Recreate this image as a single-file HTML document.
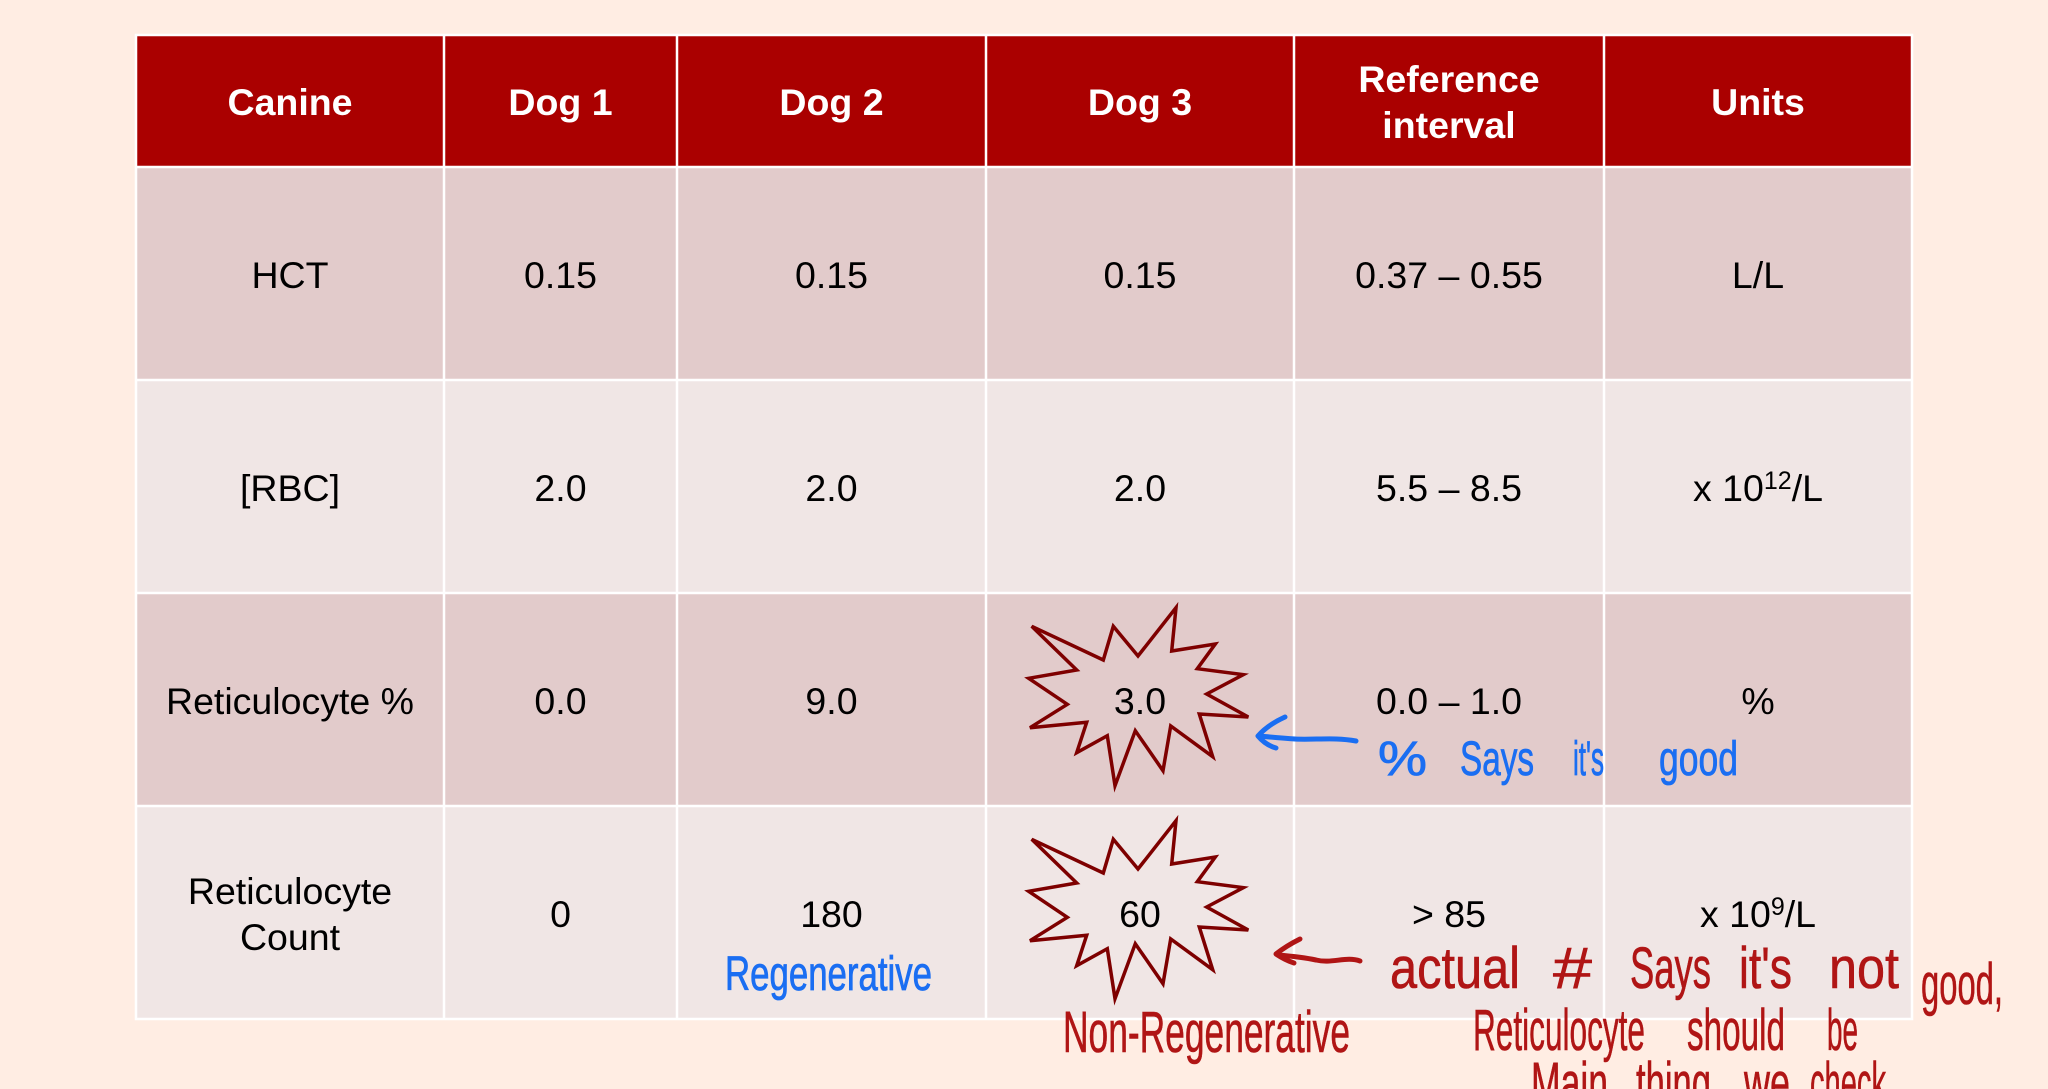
<!DOCTYPE html>
<html><head><meta charset="utf-8">
<style>
html,body{margin:0;padding:0;background:#FFEDE3;}
svg{display:block;}
text{font-family:"Liberation Sans",Arial,sans-serif;}
.h{fill:#fff;font-weight:bold;font-size:37.5px;text-anchor:middle;}
.c{fill:#000;font-size:37.5px;text-anchor:middle;}
.hb{fill:#1A6EF2;stroke:#1A6EF2;stroke-width:0.8;font-size:48px;}
.hr{fill:#B01515;stroke:#B01515;stroke-width:0.6;font-size:58px;}
</style></head>
<body>
<svg width="2048" height="1089" viewBox="0 0 2048 1089" xmlns="http://www.w3.org/2000/svg">
<rect x="0" y="0" width="2048" height="1089" fill="#FFEDE3"/>
<!-- table backgrounds -->
<rect x="136" y="35" width="1776" height="132" fill="#AA0000"/>
<rect x="136" y="167" width="1776" height="213" fill="#E2CBCB"/>
<rect x="136" y="380" width="1776" height="213" fill="#F0E6E5"/>
<rect x="136" y="593" width="1776" height="213" fill="#E2CBCB"/>
<rect x="136" y="806" width="1776" height="213" fill="#F0E6E5"/>
<!-- grid -->
<g stroke="#FFFFFF" stroke-width="2.5" fill="none">
<rect x="136" y="35" width="1776" height="984"/>
<line x1="444" y1="35" x2="444" y2="1019"/>
<line x1="677" y1="35" x2="677" y2="1019"/>
<line x1="986" y1="35" x2="986" y2="1019"/>
<line x1="1294" y1="35" x2="1294" y2="1019"/>
<line x1="1604" y1="35" x2="1604" y2="1019"/>
<line x1="136" y1="167" x2="1912" y2="167"/>
<line x1="136" y1="380" x2="1912" y2="380"/>
<line x1="136" y1="593" x2="1912" y2="593"/>
<line x1="136" y1="806" x2="1912" y2="806"/>
</g>
<!-- header -->
<text class="h" x="290" y="115">Canine</text>
<text class="h" x="560.5" y="115">Dog 1</text>
<text class="h" x="831.5" y="115">Dog 2</text>
<text class="h" x="1140" y="115">Dog 3</text>
<text class="h" x="1449" y="92">Reference</text>
<text class="h" x="1449" y="138">interval</text>
<text class="h" x="1758" y="115">Units</text>
<!-- row 1 -->
<text class="c" x="290" y="288">HCT</text>
<text class="c" x="560.5" y="288">0.15</text>
<text class="c" x="831.5" y="288">0.15</text>
<text class="c" x="1140" y="288">0.15</text>
<text class="c" x="1449" y="288">0.37 – 0.55</text>
<text class="c" x="1758" y="288">L/L</text>
<!-- row 2 -->
<text class="c" x="290" y="501">[RBC]</text>
<text class="c" x="560.5" y="501">2.0</text>
<text class="c" x="831.5" y="501">2.0</text>
<text class="c" x="1140" y="501">2.0</text>
<text class="c" x="1449" y="501">5.5 – 8.5</text>
<text class="c" x="1758" y="501">x 10<tspan font-size="25" dy="-12">12</tspan><tspan dy="12">/L</tspan></text>
<!-- row 3 -->
<text class="c" x="290" y="714">Reticulocyte %</text>
<text class="c" x="560.5" y="714">0.0</text>
<text class="c" x="831.5" y="714">9.0</text>
<text class="c" x="1140" y="714">3.0</text>
<text class="c" x="1449" y="714">0.0 – 1.0</text>
<text class="c" x="1758" y="714">%</text>
<!-- row 4 -->
<text class="c" x="290" y="904">Reticulocyte</text>
<text class="c" x="290" y="950">Count</text>
<text class="c" x="560.5" y="927">0</text>
<text class="c" x="831.5" y="927">180</text>
<text class="c" x="1140" y="927">60</text>
<text class="c" x="1449" y="927">&gt; 85</text>
<text class="c" x="1758" y="927">x 10<tspan font-size="25" dy="-12">9</tspan><tspan dy="12">/L</tspan></text>

<!-- starbursts -->
<g fill="none" stroke="#7E0000" stroke-width="3.5" stroke-linejoin="miter">
<polygon points="1176,607.7 1171.7,651 1215.3,644 1197.3,668.7 1243.3,674.7 1206.7,694 1248.3,717 1199.3,714 1212.7,756.7 1170.7,726 1163,770.7 1135.3,730.7 1115,785.7 1107.3,735.7 1076.7,752.7 1086.7,722.3 1030,727.7 1067.3,704.3 1028.7,678.3 1076.7,670 1031.7,626.3 1103.3,660 1113.3,626.3 1138,656"/>
<polygon transform="translate(0,213)" points="1176,607.7 1171.7,651 1215.3,644 1197.3,668.7 1243.3,674.7 1206.7,694 1248.3,717 1199.3,714 1212.7,756.7 1170.7,726 1163,770.7 1135.3,730.7 1115,785.7 1107.3,735.7 1076.7,752.7 1086.7,722.3 1030,727.7 1067.3,704.3 1028.7,678.3 1076.7,670 1031.7,626.3 1103.3,660 1113.3,626.3 1138,656"/>
</g>

<!-- blue arrow -->
<g fill="none" stroke="#1A6EF2" stroke-width="5" stroke-linecap="round" stroke-linejoin="round">
<path d="M1356,741 C1335,737 1315,740 1295,739 C1280,738 1270,737 1259,736"/>
<path d="M1285,717 C1274,722 1264,729 1258,736 C1263,742 1269,746 1276,748"/>
</g>
<!-- blue handwriting -->
<text class="hb" x="1378" y="775" textLength="49" lengthAdjust="spacingAndGlyphs">%</text>
<text class="hb" x="1460" y="775" textLength="74" lengthAdjust="spacingAndGlyphs">Says</text>
<text class="hb" x="1573" y="775" textLength="31" lengthAdjust="spacingAndGlyphs">it's</text>
<text class="hb" x="1659" y="775" textLength="79" lengthAdjust="spacingAndGlyphs">good</text>
<text class="hb" x="725" y="990" font-size="88" stroke-width="1.2" textLength="207" lengthAdjust="spacingAndGlyphs">Regenerative</text>

<!-- red arrow -->
<g fill="none" stroke="#B01515" stroke-width="5" stroke-linecap="round" stroke-linejoin="round">
<path d="M1360,961 C1346,956 1332,964 1316,960 C1302,957 1290,956 1278,955"/>
<path d="M1300,939 C1290,944 1281,950 1276,954 C1282,958 1288,961 1294,963"/>
</g>
<!-- red handwriting -->
<text class="hr" x="1390" y="988" textLength="130" lengthAdjust="spacingAndGlyphs">actual</text>
<text class="hr" x="1553" y="988" textLength="39" lengthAdjust="spacingAndGlyphs">#</text>
<text class="hr" x="1630" y="988" textLength="81" lengthAdjust="spacingAndGlyphs">Says</text>
<text class="hr" x="1739" y="988" textLength="53" lengthAdjust="spacingAndGlyphs">it's</text>
<text class="hr" x="1829" y="988" textLength="70" lengthAdjust="spacingAndGlyphs">not</text>
<text class="hr" x="1921" y="1004" textLength="82" lengthAdjust="spacingAndGlyphs">good,</text>
<text class="hr" x="1063" y="1052" font-size="56" textLength="287" lengthAdjust="spacingAndGlyphs">Non-Regenerative</text>
<text class="hr" x="1473" y="1050" textLength="172" lengthAdjust="spacingAndGlyphs">Reticulocyte</text>
<text class="hr" x="1687" y="1050" textLength="98" lengthAdjust="spacingAndGlyphs">should</text>
<text class="hr" x="1827" y="1050" textLength="31" lengthAdjust="spacingAndGlyphs">be</text>
<text class="hr" x="1531" y="1103" textLength="77" lengthAdjust="spacingAndGlyphs">Main</text>
<text class="hr" x="1636" y="1103" textLength="75" lengthAdjust="spacingAndGlyphs">thing</text>
<text class="hr" x="1744" y="1103" textLength="46" lengthAdjust="spacingAndGlyphs">we</text>
<text class="hr" x="1810" y="1103" textLength="76" lengthAdjust="spacingAndGlyphs">check</text>
</svg>
</body></html>
